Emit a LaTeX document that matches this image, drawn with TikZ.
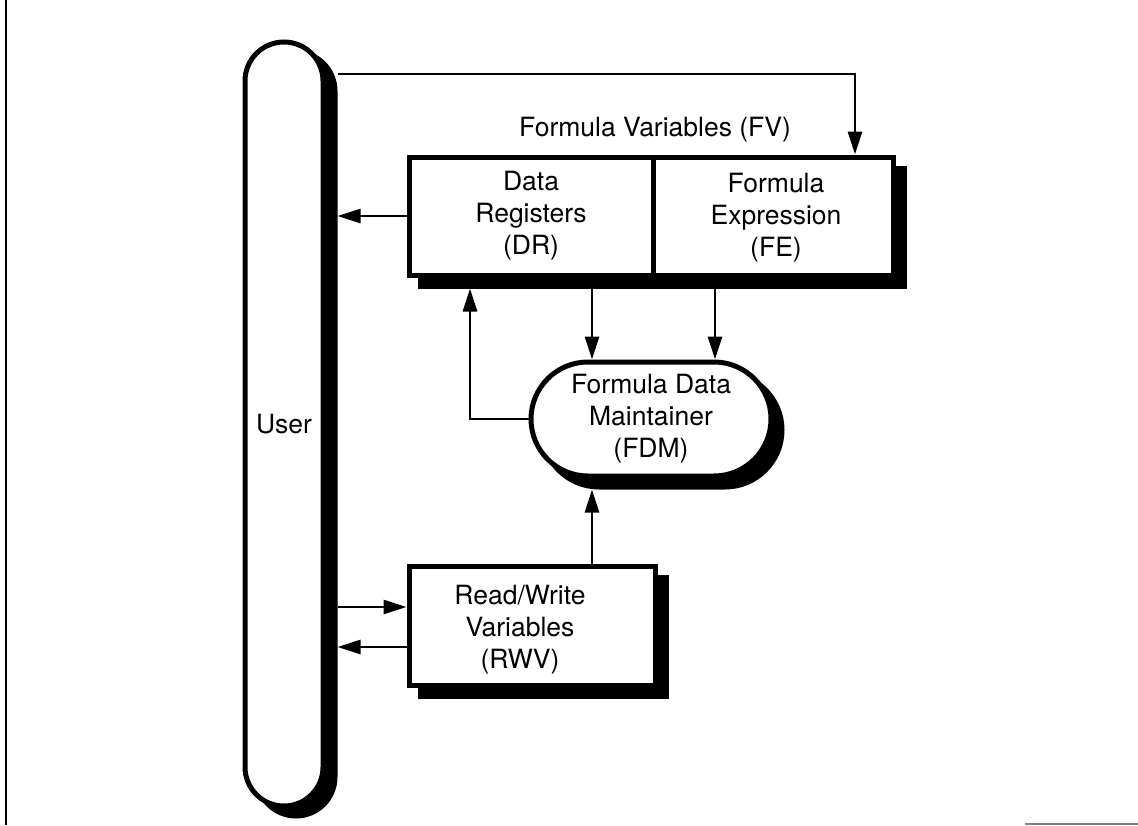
\documentclass[tikz,border=0pt]{standalone}
\usepackage{fontspec}
\setmainfont{TeX Gyre Heros}
\usetikzlibrary{arrows.meta}
\begin{document}
\begin{tikzpicture}[x=1pt,y=-1pt,
  every node/.style={font=\fontsize{26.5}{32}\selectfont, align=center},
  blk/.style={draw=black, line width=5pt, fill=white, inner sep=0pt},
  shade/.style={draw=black, fill=black, line width=5pt, inner sep=0pt},
  link/.style={line width=2.8pt, -{Triangle[length=23pt,width=14pt]}}]
\useasboundingbox (0,0) rectangle (1138,825);

% page frame remnants
\draw[line width=2pt] (5.5,0) -- (5.5,825);
\draw[gray, line width=1.5pt] (1025,824) -- (1138,824);

% user column
\node[shade, rounded corners=39pt, minimum width=78pt, minimum height=764pt] (ush) at (296,434) {};
\node[blk, rounded corners=39pt, minimum width=78pt, minimum height=764pt] (user) at (284,424) {User};

% formula variables block
\node[shade, minimum width=484pt, minimum height=118pt] (fvsh) at (662,227) {};
\node[blk, minimum width=244pt, minimum height=118pt] (dr) at (531,216) {Data\\Registers\\(DR)};
\node[blk, minimum width=240pt, minimum height=118pt] (fe) at (773,216) {};
\node (fetext) at (776,218) {Formula\\Expression\\(FE)};
\node (fv) at (655,130) {Formula Variables (FV)};

% maintainer
\node[shade, rounded corners=57pt, minimum width=240pt, minimum height=114pt] (fdmsh) at (662,430) {};
\node[blk, rounded corners=57pt, minimum width=240pt, minimum height=114pt] (fdm) at (651,419) {Formula Data\\Maintainer\\(FDM)};

% read/write variables
\node[shade, minimum width=246pt, minimum height=119pt] (rwvsh) at (543,637) {};
\node[blk, minimum width=246pt, minimum height=119pt] (rwv) at (532,626) {};
\node (rwvtext) at (520,630) {Read/Write\\Variables\\(RWV)};

% routing helpers
\coordinate (top) at (855,74);
\coordinate (lx) at (470,0);
\coordinate (ax) at (592,0);
\coordinate (bx) at (715,0);
\coordinate (rin) at (0,607);
\coordinate (rout) at (0,647);

% connectors
\draw[link] (ush.east |- top) -| (fe.north -| top);
\draw[link] (dr.west) -- (ush.east |- dr.west);
\draw[link] (fvsh.south -| ax) -- (fdm.north -| ax);
\draw[link] (fvsh.south -| bx) -- (fdm.north -| bx);
\draw[link] (fdm.west) -| (fvsh.south -| lx);
\draw[link] (rwv.north -| ax) -- (fdmsh.south -| ax);
\draw[link] (ush.east |- rin) -- (rwv.west |- rin);
\draw[link] (rwv.west |- rout) -- (ush.east |- rout);
\end{tikzpicture}
\end{document}
